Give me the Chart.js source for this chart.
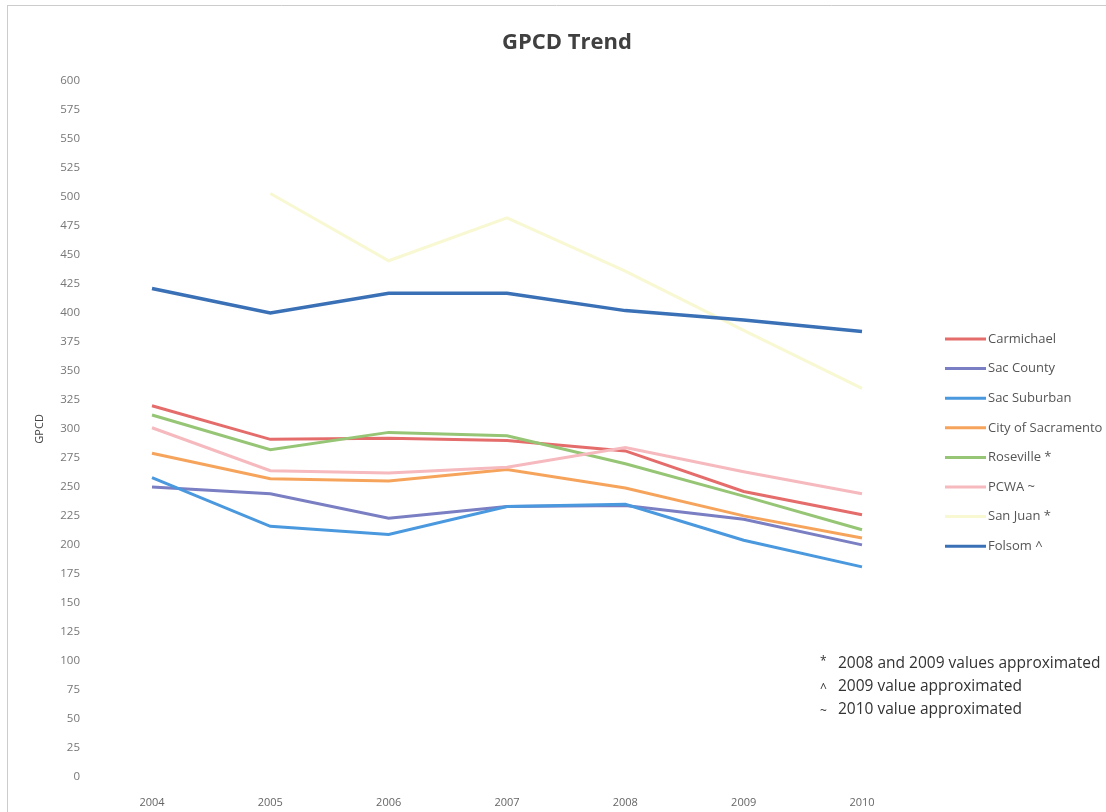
<!DOCTYPE html>
<html>
<head>
<meta charset="utf-8">
<script src="https://cdn.jsdelivr.net/npm/chart.js@4"></script>
<style>
  html, body { margin: 0; padding: 0; background: #fff; }
  #wrap { width: 1106px; height: 812px; }
</style>
</head>
<body>
<div id="wrap"><canvas id="myChart" width="1106" height="812"></canvas></div>
<script>
const years = ["2004", "2005", "2006", "2007", "2008", "2009", "2010"];

const carmichael = [320, 291, 292, 290, 281, 246, 226];
const sacCounty = [250, 244, 223, 233, 234, 222, 200];
const sacSuburban = [258, 216, 209, 233, 235, 204, 181];
const citySac = [279, 257, 255, 265, 249, 225, 206];
const roseville = [312, 282, 297, 294, 270, 242, 213];
const pcwa = [301, 264, 262, 267, 284, 263, 244];
const sanJuan = [null, 503, 445, 482, 436, 385, 335];
const folsom = [421, 400, 417, 417, 402, 394, 384];

const seriesNames = ["Carmichael", "Sac County", "Sac Suburban", "City of Sacramento",
  "Roseville *", "PCWA ~", "San Juan *", "Folsom ^"];
const seriesData = [carmichael, sacCounty, sacSuburban, citySac, roseville, pcwa, sanJuan, folsom];
const seriesColors = ["#E46C6A", "#7A7EC2", "#4A98DE", "#F6A45C", "#96C675", "#F5B9BE", "#F8F8D2", "#3A70B6"];

const chartTitle = "GPCD Trend";
const notes = [
  ["*", "2008 and 2009 values approximated"],
  ["^", "2009 value approximated"],
  ["~", "2010 value approximated"],
];

// title, legend and footnotes drawn by hand so they sit where the original has them
const extras = {
  id: "extras",
  afterDraw(chart) {
    const ctx = chart.ctx;
    ctx.save();
    ctx.textBaseline = "middle";

    ctx.font = "bold 22px 'Open Sans'";
    ctx.fillStyle = "#404040";
    ctx.textAlign = "center";
    ctx.fillText(chartTitle, 567, 43);
    ctx.textAlign = "left";

    ctx.font = "13px 'Open Sans'";
    seriesNames.forEach((name, i) => {
      const y = 339 + i * 29.6;
      ctx.strokeStyle = seriesColors[i];
      ctx.lineWidth = 3;
      ctx.beginPath();
      ctx.moveTo(945, y);
      ctx.lineTo(986, y);
      ctx.stroke();
      ctx.fillStyle = "#555";
      ctx.fillText(name, 988, y);
    });

    ctx.fillStyle = "#333";
    notes.forEach((n, i) => {
      const y = 664 + i * 23;
      ctx.font = "12px 'Open Sans'";
      ctx.fillText(n[0], 820, y + (n[0] === "*" ? -2 : 2));
      ctx.font = "15.5px 'Open Sans'";
      ctx.fillText(n[1], 838, y);
    });

    // faint page border from the scan
    ctx.strokeStyle = "#ccc";
    ctx.lineWidth = 1;
    ctx.beginPath();
    ctx.moveTo(7.5, 6);
    ctx.lineTo(7.5, 812);
    ctx.moveTo(7, 5.5);
    ctx.lineTo(1106, 5.5);
    ctx.stroke();
    ctx.restore();
  },
};

const ctx = document.getElementById("myChart");

new Chart(ctx, {
  type: "line",
  data: {
    labels: years,
    datasets: seriesNames.map((name, i) => ({
      label: name,
      data: seriesData[i],
      borderColor: seriesColors[i],
      backgroundColor: seriesColors[i],
      borderWidth: i === 7 ? 3.5 : 3,
      pointRadius: 0,
      tension: 0,
      order: seriesNames.length - i,
    })),
  },
  options: {
    responsive: false,
    animation: false,
    layout: { padding: { left: 0, right: 244, top: 81, bottom: -16 } },
    plugins: {
      legend: { display: false },
      tooltip: { enabled: false },
      title: { display: false },
    },
    scales: {
      x: {
        offset: false,
        grid: { display: false, drawTicks: false },
        border: { display: false },
        ticks: {
          color: "#666",
          padding: 19,
          maxRotation: 0,
          font: { size: 11, family: "Open Sans" },
        },
      },
      y: {
        min: 0,
        max: 600,
        weight: 10,
        grid: { display: false, drawTicks: false },
        border: { display: false },
        ticks: {
          stepSize: 25,
          color: "#777",
          padding: 4,
          font: { size: 11.5, family: "Open Sans" },
        },
        title: {
          display: true,
          text: "GPCD",
          color: "#444",
          font: { size: 11, family: "Open Sans" },
          padding: { top: 33 },
        },
        afterFit(scale) { scale.width = 84; },
      },
      // empty spacer between the tick labels and the plot
      yGap: {
        position: "left",
        weight: 0,
        display: true,
        grid: { display: false, drawTicks: false },
        border: { display: false },
        ticks: { display: false },
        afterFit(scale) { scale.width = 68; },
      },
    },
  },
  plugins: [extras],
});
</script>
</body>
</html>
